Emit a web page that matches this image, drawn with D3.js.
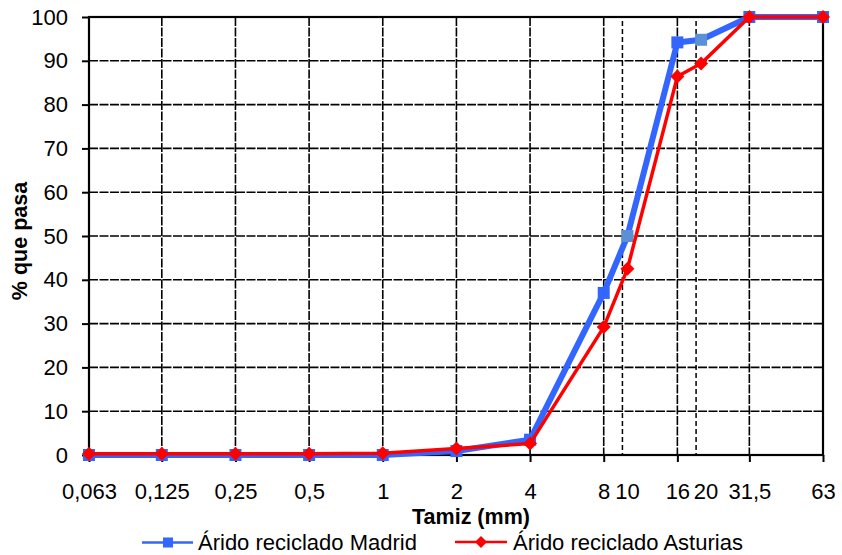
<!DOCTYPE html>
<html><head><meta charset="utf-8">
<script src="https://cdn.jsdelivr.net/npm/d3@7"></script>
<style>
html,body{margin:0;padding:0;background:#fff;}
svg{display:block;font-family:"Liberation Sans",Arial,sans-serif;}
</style></head>
<body><svg id="c" width="842" height="555"></svg>
<script>
// ---- data ----
const sieves = [0.063, 0.125, 0.25, 0.5, 1, 2, 4, 8, 10, 16, 20, 31.5, 63];
const madrid = [0, 0, 0, 0, 0, 0.9, 3.5, 37, 50, 94.2, 94.8, 100, 100];
const asturias = [0.3, 0.3, 0.3, 0.3, 0.4, 1.5, 2.6, 29.2, 42.5, 86.4, 89.4, 100, 100];
const mainTicks = [0.063, 0.125, 0.25, 0.5, 1, 2, 4, 8, 16, 31.5, 63];
const extraTicks = [10, 20];
const yTicks = [0, 10, 20, 30, 40, 50, 60, 70, 80, 90, 100];
const seriesNames = ["Árido reciclado Madrid", "Árido reciclado Asturias"];
const xTitle = "Tamiz (mm)";
const yTitle = "% que pasa";

const fmt = v => String(v).replace(".", ",");
const FONT = "'Liberation Sans',Arial,sans-serif";
const FS = 22;

const svg = d3.select("#c");
const L = 89, R = 823, T = 17, B = 455;
const x = d3.scaleLog().domain([0.063, 63]).range([L, R]);
const y = d3.scaleLinear().domain([0, 100]).range([B, T]);

const blue = "#3366FF", blueLight = "#5B8FD6", red = "#FF0000";

// horizontal grid
svg.append("g").selectAll("line").data(yTicks.filter(v => v > 0 && v < 100)).join("line")
  .attr("x1", L).attr("x2", R).attr("y1", d => y(d)).attr("y2", d => y(d))
  .attr("stroke", "#000").attr("stroke-width", 1.6).attr("stroke-dasharray", "9,1.5");
// vertical grid
svg.append("g").selectAll("line").data(mainTicks.filter(v => v > 0.063 && v < 63)).join("line")
  .attr("x1", d => x(d)).attr("x2", d => x(d)).attr("y1", T).attr("y2", B)
  .attr("stroke", "#000").attr("stroke-width", 1.6).attr("stroke-dasharray", "9,1.5");
// extra dashed sieves
svg.append("g").selectAll("line").data(extraTicks).join("line")
  .attr("x1", d => x(d) - 5).attr("x2", d => x(d) - 5).attr("y1", T + 4).attr("y2", B)
  .attr("stroke", "#000").attr("stroke-width", 1.5).attr("stroke-dasharray", "5,3");

// axes (plot border)
svg.append("rect").attr("x", L).attr("y", T).attr("width", R - L).attr("height", B - T)
  .attr("fill", "none").attr("stroke", "#000").attr("stroke-width", 2.2);

// y axis
const yAxis = d3.axisLeft(y).tickValues(yTicks).tickSize(7).tickPadding(14).tickFormat(d => d);
const gy = svg.append("g").attr("transform", `translate(${L},0)`).call(yAxis);
gy.select(".domain").remove();
gy.selectAll(".tick line").attr("stroke-width", 2);
gy.selectAll("text").attr("font-size", FS).attr("fill", "#000").attr("font-family", FONT);

// x axis
const xAxis = d3.axisBottom(x).tickValues(mainTicks).tickSize(7).tickPadding(21).tickFormat(fmt);
const gx = svg.append("g").attr("transform", `translate(0,${B})`).call(xAxis);
gx.select(".domain").remove();
gx.selectAll(".tick line").attr("stroke-width", 2);
gx.selectAll("text").attr("font-size", FS).attr("fill", "#000").attr("font-family", FONT);
// extra labels 10, 20 (same vertical placement as axis labels)
svg.append("g").attr("transform", `translate(0,${B})`).selectAll("text").data(extraTicks).join("text")
  .attr("x", (d, i) => x(d) + (i ? 5 : 0)).attr("y", 28).attr("dy", "0.71em")
  .attr("text-anchor", "middle").attr("font-size", FS).attr("font-family", FONT).text(fmt);

// titles
svg.append("text").attr("x", 471).attr("y", 524).attr("text-anchor", "middle")
  .attr("font-size", 21.5).attr("font-weight", "bold").text(xTitle);
svg.append("text").attr("transform", "translate(27,241) rotate(-90)").attr("text-anchor", "middle")
  .attr("font-size", 21.5).attr("font-weight", "bold").text(yTitle);

// series
const line = d3.line().x(d => x(d[0])).y(d => y(d[1]));
const mPts = sieves.map((s, i) => [s, madrid[i]]);
const aPts = sieves.map((s, i) => [s, asturias[i]]);

svg.append("path").datum(mPts).attr("d", line).attr("fill", "none")
  .attr("stroke", blue).attr("stroke-width", 6).attr("stroke-linejoin", "round");
svg.append("g").selectAll("rect").data(mPts).join("rect")
  .attr("x", d => x(d[0]) - 6).attr("y", d => y(d[1]) - 6)
  .attr("width", 12).attr("height", 12)
  .attr("fill", d => extraTicks.includes(d[0]) ? blueLight : blue);

svg.append("path").datum(aPts).attr("d", line).attr("fill", "none")
  .attr("stroke", red).attr("stroke-width", 3.5).attr("stroke-linejoin", "round");
const diamond = "M0,-7L7,0L0,7L-7,0Z";
svg.append("g").selectAll("path").data(aPts).join("path")
  .attr("transform", d => `translate(${x(d[0])},${y(d[1])})`)
  .attr("d", diamond).attr("fill", red);

// legend
const lg = svg.append("g");
lg.append("line").attr("x1", 142).attr("x2", 193).attr("y1", 542.5).attr("y2", 542.5)
  .attr("stroke", blue).attr("stroke-width", 2.5);
lg.append("rect").attr("x", 163).attr("y", 537.5).attr("width", 10).attr("height", 10).attr("fill", blue);
lg.append("text").attr("x", 198).attr("y", 550).attr("font-size", FS).text(seriesNames[0]);
lg.append("line").attr("x1", 455).attr("x2", 507).attr("y1", 542).attr("y2", 542)
  .attr("stroke", red).attr("stroke-width", 2.5);
lg.append("path").attr("transform", "translate(481,542)").attr("d", "M0,-6L6,0L0,6L-6,0Z").attr("fill", red);
lg.append("text").attr("x", 513).attr("y", 550).attr("font-size", FS).text(seriesNames[1]);
</script>
</body></html>
